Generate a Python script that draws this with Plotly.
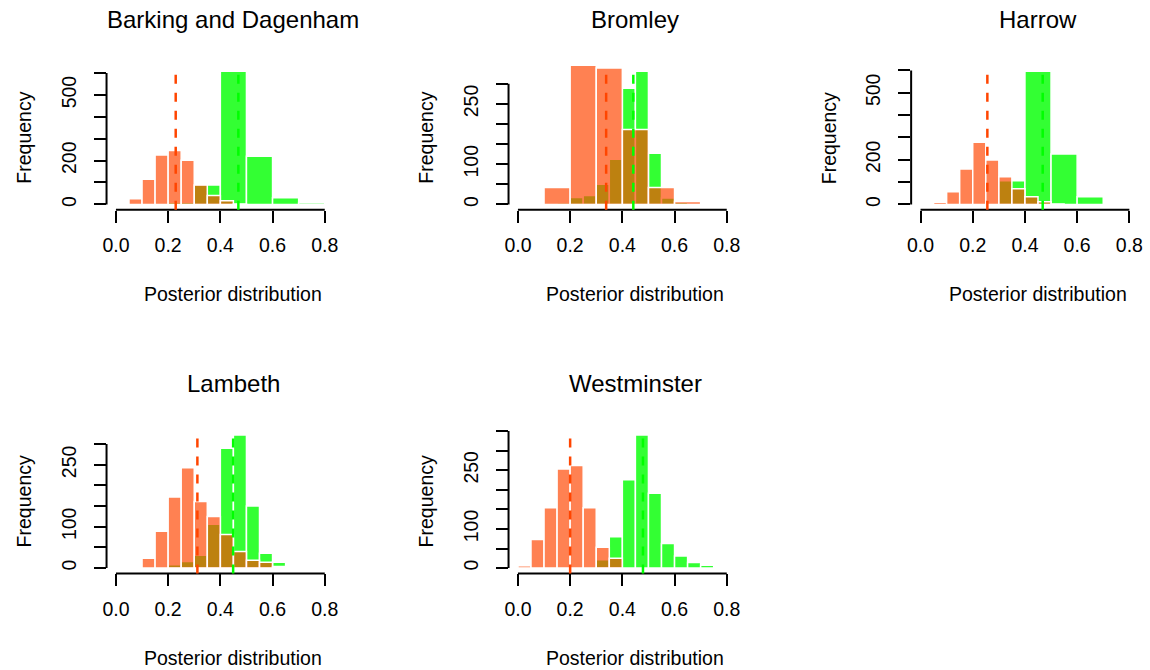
import plotly.graph_objects as go

W, H = 1150, 670

# ---------------- data ----------------
panel_names = ["Barking and Dagenham", "Bromley", "Harrow", "Lambeth", "Westminster"]

# red (orangered) histograms: bin breaks and counts
bd_red_breaks = [0.05, 0.10, 0.15, 0.20, 0.25, 0.30, 0.35, 0.40, 0.45, 0.50]
bd_red_counts = [26, 115, 226, 246, 202, 89, 41, 17, 2]
br_red_breaks = [0.1, 0.2, 0.3, 0.4, 0.5, 0.6, 0.7]
br_red_counts = [42, 384, 339, 186, 42, 7]
ha_red_breaks = [0.05, 0.10, 0.15, 0.20, 0.25, 0.30, 0.35, 0.40, 0.45, 0.50, 0.55]
ha_red_counts = [10, 57, 159, 278, 199, 124, 70, 34, 12, 2]
la_red_breaks = [0.10, 0.15, 0.20, 0.25, 0.30, 0.35, 0.40, 0.45, 0.50, 0.55, 0.60, 0.65]
la_red_counts = [24, 89, 172, 243, 161, 125, 81, 40, 19, 14, 4]
we_red_breaks = [0.00, 0.05, 0.10, 0.15, 0.20, 0.25, 0.30, 0.35, 0.40]
we_red_counts = [6, 73, 154, 253, 262, 154, 53, 25]

# green histograms
bd_green_breaks = [0.2, 0.3, 0.4, 0.5, 0.6, 0.7, 0.8]
bd_green_counts = [10, 89, 608, 220, 30, 8]
br_green_breaks = [0.15, 0.20, 0.25, 0.30, 0.35, 0.40, 0.45, 0.50, 0.55, 0.60, 0.65]
br_green_counts = [4, 17, 22, 50, 112, 289, 331, 127, 16, 5]
ha_green_breaks = [0.2, 0.3, 0.4, 0.5, 0.6, 0.7]
ha_green_counts = [4, 106, 596, 226, 34]
la_green_breaks = [0.20, 0.25, 0.30, 0.35, 0.40, 0.45, 0.50, 0.55, 0.60, 0.65]
la_green_counts = [8, 16, 31, 106, 290, 322, 150, 36, 14]
we_green_breaks = [0.30, 0.35, 0.40, 0.45, 0.50, 0.55, 0.60, 0.65, 0.70, 0.75]
we_green_counts = [21, 80, 226, 340, 191, 63, 31, 14, 7]

# posterior means (dashed lines)
red_means = [0.229, 0.338, 0.256, 0.312, 0.200]
green_means = [0.469, 0.442, 0.468, 0.449, 0.479]

# axis ticks
x_tickvals = [0.0, 0.2, 0.4, 0.6, 0.8]
x_ticktext = ["0.0", "0.2", "0.4", "0.6", "0.8"]
y_tickvals_list = [
    [0, 100, 200, 300, 400, 500, 600],
    [0, 50, 100, 150, 200, 250, 300],
    [0, 100, 200, 300, 400, 500, 600],
    [0, 50, 100, 150, 200, 250, 300],
    [0, 50, 100, 150, 200, 250, 300, 350],
]
y_ticktext_list = [
    ["0", "", "200", "", "", "500", ""],
    ["0", "", "100", "", "", "250", ""],
    ["0", "", "200", "", "", "500", ""],
    ["0", "", "100", "", "", "250", ""],
    ["0", "", "100", "", "", "250", "", ""],
]

reds = [(bd_red_breaks, bd_red_counts), (br_red_breaks, br_red_counts), (ha_red_breaks, ha_red_counts),
        (la_red_breaks, la_red_counts), (we_red_breaks, we_red_counts)]
greens = [(bd_green_breaks, bd_green_counts), (br_green_breaks, br_green_counts), (ha_green_breaks, ha_green_counts),
          (la_green_breaks, la_green_counts), (we_green_breaks, we_green_counts)]

# ---------------- layout geometry (pixels) ----------------
col_left = [102.9, 506.3, 910.3]
plot_w = 254.6
row_top = [66.0, 429.7]
plot_h = 143.7
XLIM = [-0.036, 0.936]
positions = [(0, 0), (0, 1), (0, 2), (1, 0), (1, 1)]

RED = "rgba(255,69,0,0.68)"
GREEN = "rgba(0,255,0,0.8)"
FONT = "Liberation Sans, Arial, sans-serif"
LAB = 19.5

fig = go.Figure()
layout = dict(
    width=W, height=H, margin=dict(l=0, r=0, t=0, b=0),
    paper_bgcolor="white", plot_bgcolor="white",
    barmode="overlay", showlegend=False,
    font=dict(family=FONT, size=LAB, color="black"),
)
shapes = []
annotations = []


def centers_widths(breaks):
    c = [(breaks[i] + breaks[i + 1]) / 2 for i in range(len(breaks) - 1)]
    w = [breaks[i + 1] - breaks[i] for i in range(len(breaks) - 1)]
    return c, w


for i, (r, c) in enumerate(positions):
    k = i + 1
    xa = "x" if k == 1 else f"x{k}"
    ya = "y" if k == 1 else f"y{k}"
    left = col_left[c]
    right = min(left + plot_w, W)
    top = row_top[r]
    bottom = top + plot_h
    scale = plot_w / (XLIM[1] - XLIM[0])
    xr = [XLIM[0], XLIM[0] + (right - left) / scale]

    gb, gc = greens[i]
    rb, rc = reds[i]
    M = max(gc)
    yr = [-0.04 * M, 1.04 * M]

    cx, wx = centers_widths(gb)
    fig.add_trace(go.Bar(x=cx, y=gc, width=wx, xaxis=xa, yaxis=ya,
                         marker=dict(color=GREEN, line=dict(color="white", width=1.5))))
    cx, wx = centers_widths(rb)
    fig.add_trace(go.Bar(x=cx, y=rc, width=wx, xaxis=xa, yaxis=ya,
                         marker=dict(color=RED, line=dict(color="white", width=1.5))))

    axis_common = dict(showgrid=False, zeroline=False, showline=False, ticks="outside",
                       ticklen=12, tickwidth=2, tickcolor="black",
                       tickfont=dict(family=FONT, size=LAB, color="black"))
    layout["xaxis" if k == 1 else f"xaxis{k}"] = dict(
        domain=[left / W, right / W], range=xr, anchor=ya,
        tickmode="array", tickvals=x_tickvals, ticktext=x_ticktext,
        ticklabelstandoff=6, **axis_common)
    layout["yaxis" if k == 1 else f"yaxis{k}"] = dict(
        domain=[1 - bottom / H, 1 - top / H], range=yr, anchor=xa,
        tickmode="array", tickvals=y_tickvals_list[i], ticktext=y_ticktext_list[i],
        tickangle=-90, ticklabelstandoff=10, **axis_common)

    # axis lines (R style: only between first and last tick)
    shapes.append(dict(type="line", xref=xa, yref=f"{ya} domain", x0=x_tickvals[0], x1=x_tickvals[-1],
                       y0=0, y1=0, line=dict(color="black", width=2)))
    shapes.append(dict(type="line", xref=f"{xa} domain", yref=ya, x0=0, x1=0,
                       y0=y_tickvals_list[i][0], y1=y_tickvals_list[i][-1], line=dict(color="black", width=2)))
    # mean lines
    shapes.append(dict(type="line", xref=xa, yref=f"{ya} domain", x0=red_means[i], x1=red_means[i],
                       y0=0, y1=1, line=dict(color="rgb(255,69,0)", width=2.5, dash="9px,9px")))
    shapes.append(dict(type="line", xref=xa, yref=f"{ya} domain", x0=green_means[i], x1=green_means[i],
                       y0=0, y1=1, line=dict(color="rgb(0,255,0)", width=2.5, dash="9px,9px")))

    cxp = left + plot_w / 2
    annotations.append(dict(text=panel_names[i], x=cxp / W, y=1 - (top - 46) / H, xref="paper", yref="paper",
                            xanchor="center", yanchor="middle", showarrow=False,
                            font=dict(family=FONT, size=24, color="black")))
    annotations.append(dict(text="Posterior distribution", x=cxp / W, y=1 - (bottom + 84.5) / H,
                            xref="paper", yref="paper", xanchor="center", yanchor="middle", showarrow=False,
                            font=dict(family=FONT, size=LAB, color="black")))
    annotations.append(dict(text="Frequency", x=(left - 83) / W, y=1 - (top + plot_h / 2) / H,
                            xref="paper", yref="paper", xanchor="center", yanchor="middle", showarrow=False,
                            textangle=-90, font=dict(family=FONT, size=LAB, color="black")))

layout["shapes"] = shapes
layout["annotations"] = annotations
fig.update_layout(**layout)
fig.write_html("out.html")
